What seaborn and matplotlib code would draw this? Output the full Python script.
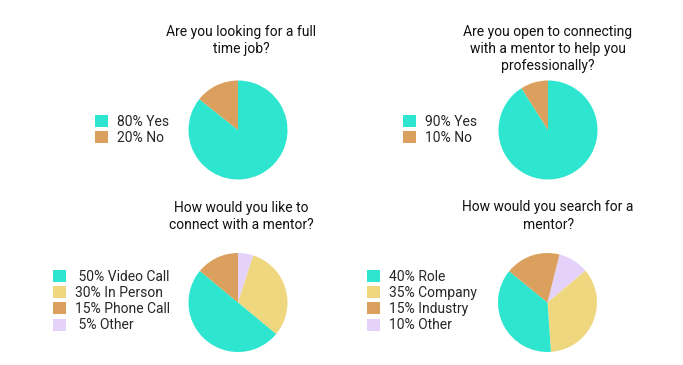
import seaborn as sns
import matplotlib.pyplot as plt
from matplotlib.patches import Patch

# colours
teal = '#2ee6cf'
orange = '#dba05e'
yellow = '#efd780'
lavender = '#e5d2fb'

# slice sizes as drawn (clockwise from the start angle)
job_labels = ['80% Yes', '20% No']
job_sizes = [85.7, 14.3]

mentor_labels = ['90% Yes', '10% No']
mentor_sizes = [91, 9]

connect_labels = [' 50% Video Call', '30% In Person', '15% Phone Call', ' 5% Other']
connect_sizes = [5, 31, 50, 14]   # Other, In Person, Video Call, Phone Call

search_labels = ['40% Role', '35% Company', '15% Industry', '10% Other']
search_sizes = [10, 35, 37, 18]   # Other, Company, Role, Industry

W, H = 683, 365

sns.set_theme(style='white')
plt.rcParams['font.family'] = ['Roboto', 'DejaVu Sans']

fig = plt.figure(figsize=(W / 100, H / 100), dpi=100)


def pie_at(cx, cy, r, sizes, colors, start):
    ax = fig.add_axes([(cx - r) / W, 1 - (cy + r) / H, 2 * r / W, 2 * r / H])
    ax.pie(sizes, colors=colors, startangle=start, counterclock=False,
           wedgeprops={'linewidth': 0})
    ax.set_xlim(-1, 1)
    ax.set_ylim(-1, 1)
    ax.axis('off')
    return ax


def legend_at(x, y, labels, colors):
    handles = [Patch(facecolor=c, edgecolor='none') for c in colors]
    fig.legend(handles, labels, loc='center left',
               bbox_to_anchor=(x / W, 1 - y / H), frameon=False,
               fontsize=10, handlelength=0.95, handleheight=0.95,
               handletextpad=0.6, labelspacing=0.16, borderpad=0,
               borderaxespad=0)


def title_at(x, y, txt):
    fig.text(x / W, 1 - y / H, txt, ha='center', va='center',
             fontsize=10, linespacing=1.3, color='#111111')


pie_at(238, 130, 49.5, job_sizes, [teal, orange], 90)
legend_at(95, 130, job_labels, [teal, orange])
title_at(241, 40.5, 'Are you looking for a full\ntime job?')

pie_at(548, 130, 49.5, mentor_sizes, [teal, orange], 90)
legend_at(403, 130, mentor_labels, [teal, orange])
title_at(548, 49, 'Are you open to connecting\nwith a mentor to help you\nprofessionally?')

pie_at(238, 302.5, 49.5, connect_sizes, [lavender, yellow, teal, orange], 90)
legend_at(53, 301, connect_labels, [teal, yellow, orange, lavender])
title_at(241, 216.5, 'How would you like to\nconnect with a mentor?')

pie_at(547.5, 302.5, 49.5, search_sizes, [lavender, yellow, teal, orange], 76)
legend_at(367, 301, search_labels, [teal, yellow, orange, lavender])
title_at(548, 216, 'How would you search for a\nmentor?')

fig.savefig('out.png', dpi=100, facecolor='white')
